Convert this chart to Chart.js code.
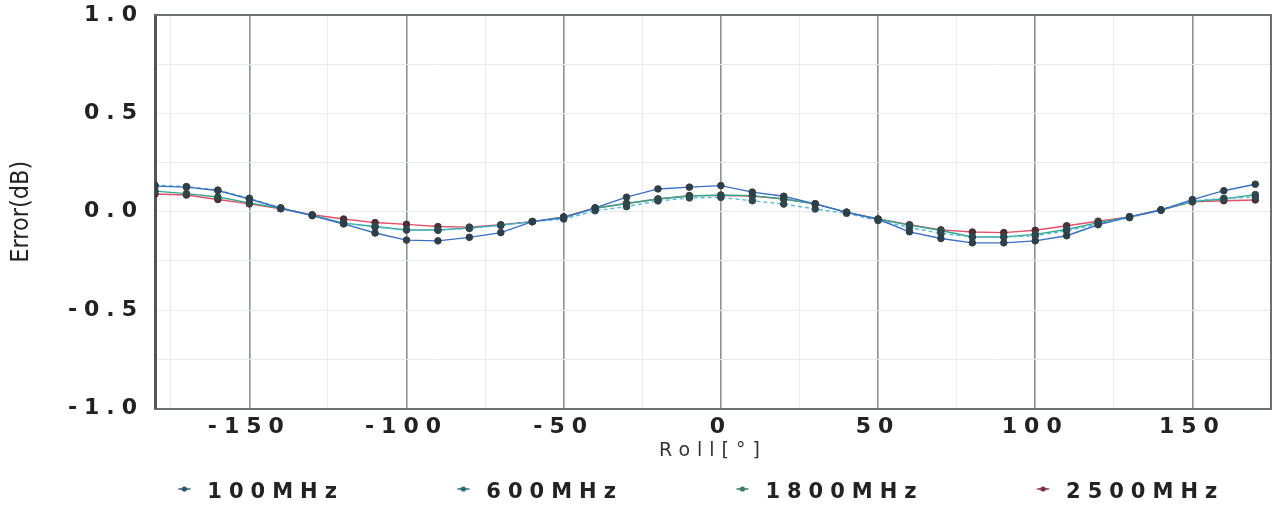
<!DOCTYPE html>
<html><head><meta charset="utf-8">
<script src="https://cdn.jsdelivr.net/npm/chart.js@4.4.1/dist/chart.umd.min.js"></script>
<style>html,body{margin:0;padding:0;background:#fff}#wrap{width:1281px;height:506px;position:relative}</style>
</head><body><div id="wrap"><canvas id="c"></canvas></div>
<script>
// ---- data ----
const rollDeg = [-180,-170,-160,-150,-140,-130,-120,-110,-100,-90,-80,-70,-60,-50,-40,-30,-20,-10,0,10,20,30,40,50,60,70,80,90,100,110,120,130,140,150,160,170];
const err100MHz  = [0.130,0.125,0.108,0.065,0.018,-0.020,-0.062,-0.108,-0.144,-0.148,-0.130,-0.106,-0.050,-0.030,0.020,0.074,0.116,0.125,0.133,0.100,0.079,0.040,-0.003,-0.038,-0.102,-0.136,-0.158,-0.158,-0.148,-0.122,-0.066,-0.026,0.009,0.062,0.107,0.140];
const err600MHz  = [0.135,0.128,0.110,0.068,0.020,-0.018,-0.058,-0.078,-0.092,-0.094,-0.085,-0.070,-0.050,-0.037,0.005,0.026,0.055,0.070,0.073,0.056,0.039,0.014,-0.008,-0.045,-0.080,-0.110,-0.128,-0.128,-0.122,-0.097,-0.062,-0.030,0.007,0.055,0.068,0.075];
const err1800MHz = [0.105,0.092,0.075,0.045,0.017,-0.018,-0.058,-0.075,-0.093,-0.093,-0.082,-0.068,-0.050,-0.028,0.017,0.042,0.065,0.080,0.085,0.082,0.065,0.040,-0.002,-0.037,-0.068,-0.095,-0.128,-0.128,-0.115,-0.090,-0.055,-0.026,0.010,0.052,0.065,0.087];
const err2500MHz = [0.090,0.085,0.062,0.040,0.015,-0.015,-0.037,-0.055,-0.064,-0.075,-0.078,-0.066,-0.050,-0.026,0.019,0.042,0.065,0.082,0.082,0.080,0.065,0.040,-0.003,-0.037,-0.066,-0.092,-0.103,-0.106,-0.094,-0.071,-0.048,-0.026,0.009,0.050,0.056,0.060];
const seriesNames = ['100MHz','600MHz','1800MHz','2500MHz'];
const xTickValues = [-150,-100,-50,0,50,100,150];
const yTickValues = [-1.0,-0.5,0.0,0.5,1.0];
const xTitle = 'Roll[°]';
const yTitle = 'Error(dB)';

// ---- styles ----
const lineColors = ['#3b6fc4','#57b8e0','#2fa88a','#e0506a'];
const dotColors  = ['#2f3f48','#2f4850','#2f4a42','#4a2f36'];
const legendDot  = ['#2c5866','#2c6a78','#3a7a60','#7a2e42'];
const dashes = [[],[4,3],[],[]];
const FONT = "'DejaVu Sans', sans-serif";
const LEG_W = 126;

function markerCanvas(color){
  const c = document.createElement('canvas');
  c.width = LEG_W; c.height = 16;
  const g = c.getContext('2d');
  const cx = LEG_W - 12.5, cy = 4;
  g.strokeStyle = color; g.lineWidth = 1.5;
  g.beginPath(); g.moveTo(cx-6, cy); g.lineTo(cx+6, cy); g.stroke();
  g.fillStyle = color; g.beginPath(); g.arc(cx, cy, 2.6, 0, Math.PI*2); g.fill();
  return c;
}
const markers = legendDot.map(markerCanvas);

const allSeries = [err100MHz, err600MHz, err1800MHz, err2500MHz];
const datasets = allSeries.map((vals, i) => ({
  label: seriesNames[i],
  data: rollDeg.map((x, k) => ({x: x, y: vals[k]})),
  borderColor: lineColors[i],
  borderWidth: 1.4,
  borderDash: dashes[i],
  backgroundColor: dotColors[i],
  pointBackgroundColor: dotColors[i],
  pointBorderColor: dotColors[i],
  pointRadius: 3.3,
  pointBorderWidth: 1,
  tension: 0,
  fill: false
}));

const SPACING = '7px';
const spacingPlugin = {
  id: 'spacing',
  beforeUpdate(chart){ chart.ctx.letterSpacing = SPACING; },
  beforeLayout(chart){ chart.ctx.letterSpacing = SPACING; },
  beforeDraw(chart){
    chart.ctx.letterSpacing = SPACING;
    const ys = chart.scales.y;
    if (ys && !ys._noSpacingTitle){
      const orig = ys.drawTitle;
      ys.drawTitle = function(){ const c = this.ctx; const p = c.letterSpacing; c.letterSpacing = '0px'; orig.apply(this, arguments); c.letterSpacing = p; };
      ys._noSpacingTitle = true;
    }
  }
};
const framePlugin = {
  id: 'frame',
  beforeDatasetsDraw(chart){
    const {ctx, chartArea: a} = chart;
    ctx.save();
    ctx.strokeStyle = '#6d7175'; ctx.lineWidth = 2;
    ctx.beginPath(); ctx.moveTo(a.left, a.top); ctx.lineTo(a.right, a.top); ctx.lineTo(a.right, a.bottom); ctx.stroke();
    ctx.restore();
  }
};

new Chart(document.getElementById('c'), {
  type: 'line',
  data: { datasets },
  plugins: [spacingPlugin, framePlugin],
  options: {
    responsive: true, maintainAspectRatio: false, animation: false,
    layout: { padding: { top: 15, right: 10, bottom: 0, left: 24 } },
    plugins: {
      tooltip: { enabled: false },
      legend: {
        position: 'bottom', maxHeight: 29.5,
        labels: {
          usePointStyle: true, pointStyleWidth: LEG_W, padding: 6,
          color: '#222', font: { family: FONT, size: 21, weight: 'bold' },
          generateLabels(chart){
            return chart.data.datasets.map((d, i) => ({
              text: d.label, datasetIndex: i, pointStyle: markers[i], hidden: false,
              fillStyle: 'transparent', strokeStyle: 'transparent', lineWidth: 0, fontColor: '#222'
            }));
          }
        }
      }
    },
    scales: {
      x: {
        type: 'linear', min: -180, max: 175,
        afterFit(s){ s.height = 68; s.paddingLeft = 0; s.paddingRight = 0; },
        afterBuildTicks(s){
          const t = [];
          xTickValues.forEach(v => { t.push(v - 25); t.push(v); });
          t.push(xTickValues[xTickValues.length - 1] + 25);
          s.ticks = t.map(v => ({value: v}));
        },
        ticks: {
          autoSkip: false, maxRotation: 0, padding: 6, color: '#222',
          font: { family: FONT, size: 22, weight: 'bold' },
          callback: v => xTickValues.includes(v) ? String(v) : ''
        },
        grid: {
          drawTicks: false,
          color: c => (c.tick && xTickValues.includes(c.tick.value)) ? '#8d9298' : '#ececec',
          lineWidth: c => (c.tick && xTickValues.includes(c.tick.value)) ? 1.6 : 1
        },
        border: { display: true, color: '#6d7175', width: 2 },
        title: { display: true, text: xTitle, color: '#333', font: { family: FONT, size: 19 }, padding: { top: 0, bottom: 14 } }
      },
      y: {
        type: 'linear', min: -1, max: 1,
        afterFit(s){ s.width = 131; s.paddingTop = 0; s.paddingBottom = 0; },
        afterBuildTicks(s){
          const t = [];
          yTickValues.forEach(v => { t.push(v); if (v < 1) t.push(v + 0.25); });
          s.ticks = t.map(v => ({value: v}));
        },
        ticks: {
          autoSkip: false, padding: 11, color: '#222',
          font: { family: FONT, size: 22, weight: 'bold' },
          callback: v => yTickValues.some(t => Math.abs(t - v) < 1e-9) ? v.toFixed(1) : ''
        },
        grid: { drawTicks: false, color: '#ebebeb', lineWidth: 1 },
        border: { display: true, color: '#555', width: 3 },
        title: { display: true, text: yTitle, color: '#222', font: { family: "'Liberation Sans Narrow', 'DejaVu Sans Condensed', sans-serif", size: 25 }, padding: { top: -18, bottom: 0 } }
      }
    }
  }
});
</script>
</body></html>
